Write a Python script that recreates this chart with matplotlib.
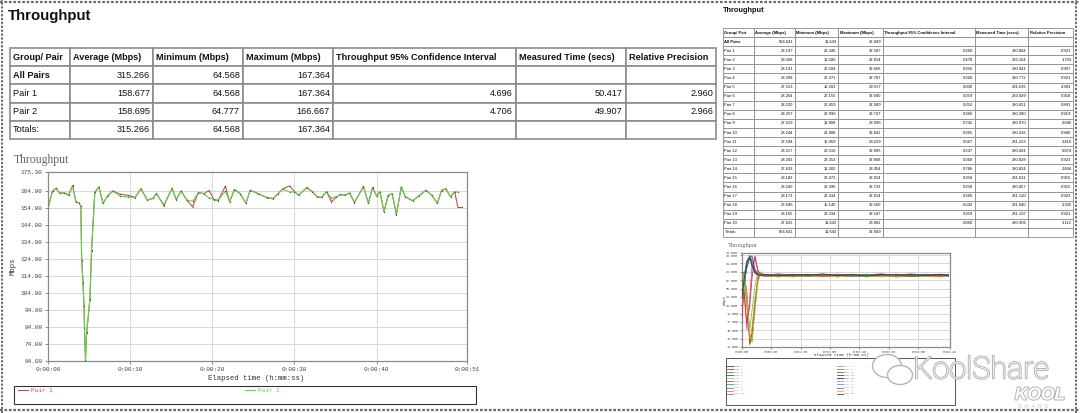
import matplotlib
matplotlib.use("Agg")
import matplotlib.pyplot as plt
import matplotlib.patheffects as pe
from matplotlib.patches import Ellipse, Rectangle

plt.rcParams['font.family'] = ['Liberation Sans', 'DejaVu Sans']

W, H = 1080, 413   # canvas in pixels

# ---------------- data: left report (2 pairs) ----------------
table_header = ["Group/ Pair", "Average (Mbps)", "Minimum (Mbps)", "Maximum (Mbps)",
                "Throughput 95% Confidence Interval", "Measured Time (secs)", "Relative Precision"]
left_rows = [
    ["All Pairs", "315.266", "64.568", "167.364", "", "", ""],
    ["Pair 1", "158.677", "64.568", "167.364", "4.696", "50.417", "2.960"],
    ["Pair 2", "158.695", "64.777", "166.667", "4.706", "49.907", "2.966"],
    ["Totals:", "315.266", "64.568", "167.364", "", "", ""],
]

# elapsed seconds / Mbps
t_pair1 = [0.0, 0.55, 1.0, 1.4, 2.0, 2.5, 3.0, 3.4, 3.8, 4.0, 4.1, 4.26, 4.38, 4.44, 4.56,
           4.7, 5.1, 5.3, 5.7, 6.2, 6.7, 7.3, 7.9, 8.8, 9.7, 10.6, 11.3, 12.1, 12.8, 13.2,
           14.1, 15.1, 15.6, 16.2, 16.9, 17.6, 18.3, 19.0, 19.6, 20.2, 20.7, 21.6, 22.1,
           22.7, 23.4, 24.1, 24.6, 25.6, 26.6, 27.4, 28.0, 28.6, 29.4, 30.0, 30.5, 31.5,
           32.1, 32.8, 33.3, 33.9, 34.5, 35.1, 35.6, 36.1, 36.7, 37.3, 38.4, 39.0, 39.5,
           40.0, 40.4, 40.9, 41.4, 41.9, 42.4, 43.0, 43.5, 44.4, 45.2, 46.0, 46.7, 47.4,
           47.9, 48.4, 49.0, 49.5, 49.9, 50.4]
mbps_pair1 = [154.0, 164.2, 165.8, 162.8, 163.0, 161.7, 167.364, 157.7, 157.0, 155.0, 123.4,
              110.5, 97.0, 84.0, 64.568, 80.5, 100.0, 129.0, 163.4, 166.4, 156.8, 161.6, 164.2,
              162.2, 161.6, 160.4, 165.5, 158.7, 159.9, 162.8, 155.4, 165.8, 159.0, 164.2,
              158.7, 154.8, 163.2, 162.6, 164.4, 159.0, 158.5, 167.0, 157.7, 165.0, 162.6,
              156.8, 164.6, 162.6, 160.2, 159.6, 162.6, 165.5, 167.1, 163.8, 161.6, 166.2,
              164.0, 160.6, 160.3, 163.8, 157.7, 160.6, 162.2, 161.6, 163.0, 157.3, 166.8,
              156.8, 166.2, 161.1, 163.8, 151.8, 161.6, 162.6, 150.1, 166.5, 160.6, 158.3,
              161.6, 164.6, 161.6, 156.8, 164.6, 165.5, 160.6, 163.6, 154.4, 154.4]
t_pair2 = [0.0, 0.55, 1.0, 1.4, 2.0, 2.5, 3.0, 3.4, 3.8, 4.0, 4.1, 4.26, 4.38, 4.44, 4.56,
           4.7, 5.1, 5.3, 5.7, 6.2, 6.7, 7.3, 7.9, 8.8, 9.7, 10.6, 11.3, 12.1, 12.8, 13.2,
           14.1, 15.1, 15.6, 16.2, 16.9, 17.6, 18.3, 19.0, 19.6, 20.2, 20.7, 21.6, 22.1,
           22.7, 23.4, 24.1, 24.6, 25.6, 26.6, 27.4, 28.0, 28.6, 29.4, 30.0, 30.5, 31.5,
           32.1, 32.8, 33.3, 33.9, 34.5, 35.1, 35.6, 36.1, 36.7, 37.3, 38.4, 39.0, 39.5,
           40.0, 40.4, 40.9, 41.4, 41.9, 42.4, 43.0, 43.5, 44.4, 45.2, 46.0, 46.7, 47.4,
           47.9, 48.4, 49.0, 49.5, 49.9]
mbps_pair2 = [154.0, 164.0, 165.6, 162.9, 163.1, 161.5, 166.9, 157.9, 157.1, 155.2, 123.0,
              110.0, 96.5, 83.5, 64.777, 80.8, 100.4, 129.4, 163.6, 166.667, 156.9, 161.4,
              164.0, 161.0, 160.6, 160.2, 165.3, 158.9, 159.7, 162.6, 156.0, 165.6, 159.2,
              164.0, 158.9, 158.0, 163.0, 162.4, 160.0, 159.2, 158.7, 164.0, 157.9, 164.8,
              162.4, 157.0, 164.4, 162.4, 160.4, 159.8, 162.4, 165.3, 163.5, 163.6, 161.8,
              166.0, 163.8, 160.8, 160.5, 163.6, 160.0, 160.8, 162.0, 161.8, 162.8, 157.5,
              166.5, 157.0, 166.0, 161.3, 163.6, 152.0, 161.4, 162.4, 150.4, 166.3, 160.8,
              158.5, 161.4, 164.4, 161.8, 157.0, 164.4, 165.3, 160.8, 163.8, 163.4]

left_yticks = [64, 74, 84, 94, 104, 114, 124, 134, 144, 154, 164, 175.3]
left_xticks = [0, 10, 20, 30, 40, 51]

# ---------------- data: right report (20 pairs) ----------------
right_rows = [
    ["All Pairs", "556.641", "11.643", "32.949", "", "", ""],
    ["Pair 1", "28.197", "22.346", "32.587", "0.260", "280.884", "0.921"],
    ["Pair 2", "28.068", "16.580", "32.814", "0.478", "282.164", "1.703"],
    ["Pair 3", "28.191", "22.504", "32.666", "0.256", "280.941", "0.907"],
    ["Pair 4", "28.208", "22.371", "32.787", "0.260", "280.772", "0.921"],
    ["Pair 5", "27.553", "12.203", "29.017", "0.800", "281.636", "2.903"],
    ["Pair 6", "28.264", "22.155", "32.600", "0.259", "283.049", "0.918"],
    ["Pair 7", "28.220", "22.459", "32.949", "0.252", "280.651", "0.891"],
    ["Pair 8", "28.257", "22.996", "32.747", "0.260", "280.280", "0.919"],
    ["Pair 9", "27.619", "12.808", "28.996", "0.742", "280.970", "2.686"],
    ["Pair 10", "28.244", "21.888", "32.841", "0.265", "280.416", "0.940"],
    ["Pair 11", "27.594", "15.069", "29.229", "0.667", "281.223", "2.416"],
    ["Pair 12", "28.217", "22.510", "32.895", "0.247", "280.681", "0.874"],
    ["Pair 13", "28.202", "22.353", "32.868", "0.260", "280.828", "0.923"],
    ["Pair 14", "27.633", "12.302", "28.954", "0.786", "280.824", "2.844"],
    ["Pair 15", "28.182", "22.472", "32.814", "0.258", "281.031", "0.915"],
    ["Pair 16", "28.240", "22.396", "32.733", "0.258", "280.457", "0.915"],
    ["Pair 17", "28.173", "22.334", "32.814", "0.260", "281.120", "0.923"],
    ["Pair 18", "27.696", "15.140", "32.560", "0.643", "281.040", "2.305"],
    ["Pair 19", "28.165", "22.334", "32.547", "0.259", "281.197", "0.921"],
    ["Pair 20", "27.625", "11.643", "28.881", "0.860", "280.906", "3.112"],
    ["Totals:", "556.641", "11.643", "32.949", "", "", ""],
]

t_right = [0, 3, 7, 11, 14, 18, 22, 26, 30, 50, 70, 90, 110, 130, 150, 170, 190, 210, 230, 250, 270, 281]
r_pair1 = [22.4, 27.0, 31.2, 32.5, 30.6, 28.9, 28.3, 28.1, 28.4, 28.0, 28.3, 28.2, 28.5, 28.1, 28.3, 28.0, 28.4, 28.2, 28.3, 28.1, 28.4, 28.2]
r_pair2 = [17.0, 24.5, 16.6, 21.0, 27.5, 32.8, 29.4, 28.2, 28.0, 28.3, 28.1, 28.4, 28.0, 28.2, 28.3, 28.1, 28.2, 28.4, 27.9, 28.2, 28.1, 28.3]
r_pair3 = [22.5, 26.2, 30.5, 32.6, 31.2, 29.0, 28.4, 28.2, 28.1, 28.4, 28.2, 28.0, 28.3, 28.3, 28.1, 28.4, 28.2, 28.1, 28.3, 28.2, 28.0, 28.3]
r_pair4 = [22.4, 25.8, 29.9, 32.4, 32.8, 29.6, 28.5, 28.1, 28.3, 28.2, 28.4, 28.1, 28.2, 28.4, 28.0, 28.3, 28.1, 28.3, 28.2, 28.4, 28.2, 28.1]
r_pair5 = [21.0, 28.6, 23.4, 14.0, 12.2, 19.5, 26.2, 29.0, 28.2, 27.9, 28.1, 28.0, 28.2, 27.8, 28.1, 28.0, 27.9, 28.2, 28.0, 27.9, 28.1, 28.0]
r_pair6 = [22.2, 27.4, 31.6, 32.6, 30.2, 28.7, 28.2, 28.4, 28.2, 28.5, 28.2, 28.3, 28.1, 28.4, 28.2, 28.3, 28.5, 28.1, 28.3, 28.2, 28.4, 28.3]
r_pair7 = [22.5, 26.8, 31.0, 32.9, 31.4, 29.1, 28.4, 28.2, 28.0, 28.3, 28.2, 28.4, 28.1, 28.3, 28.2, 28.0, 28.3, 28.4, 28.1, 28.2, 28.3, 28.2]
r_pair8 = [23.0, 27.1, 30.7, 32.7, 30.9, 28.8, 28.3, 28.4, 28.3, 28.1, 28.4, 28.2, 28.3, 28.2, 28.4, 28.1, 28.3, 28.2, 28.5, 28.2, 28.3, 28.1]
r_pair9 = [20.2, 27.9, 22.6, 12.8, 15.5, 22.4, 27.8, 28.9, 28.1, 28.0, 27.8, 28.1, 27.9, 28.0, 28.2, 27.9, 28.0, 27.8, 28.1, 28.0, 27.9, 28.1]
r_pair10 = [21.9, 26.0, 30.2, 32.8, 31.6, 29.3, 28.5, 28.1, 28.2, 28.4, 28.1, 28.3, 28.2, 28.1, 28.4, 28.3, 28.0, 28.2, 28.4, 28.1, 28.3, 28.2]
r_pair11 = [19.8, 26.4, 20.5, 15.1, 19.8, 25.6, 29.2, 28.4, 28.0, 27.9, 28.1, 28.0, 27.8, 28.2, 27.9, 28.0, 28.1, 27.9, 28.0, 28.2, 27.9, 28.0]
r_pair12 = [22.5, 27.2, 31.5, 32.9, 30.4, 28.6, 28.2, 28.3, 28.1, 28.3, 28.2, 28.4, 28.2, 28.1, 28.3, 28.2, 28.4, 28.1, 28.2, 28.3, 28.1, 28.2]
r_pair13 = [22.4, 26.6, 30.9, 32.8, 31.1, 29.0, 28.3, 28.1, 28.3, 28.1, 28.3, 28.2, 28.4, 28.2, 28.0, 28.3, 28.2, 28.4, 28.1, 28.3, 28.2, 28.3]
r_pair14 = [21.3, 28.9, 24.2, 13.4, 12.3, 20.6, 27.0, 28.8, 28.1, 28.0, 27.9, 28.2, 28.0, 27.9, 28.1, 27.8, 28.0, 28.1, 27.9, 28.0, 28.2, 27.9]
r_pair15 = [22.5, 26.9, 31.3, 32.8, 30.8, 28.9, 28.3, 28.2, 28.2, 28.3, 28.1, 28.2, 28.3, 28.4, 28.1, 28.2, 28.3, 28.0, 28.2, 28.4, 28.1, 28.2]
r_pair16 = [22.4, 25.9, 30.4, 32.7, 31.5, 29.2, 28.4, 28.3, 28.4, 28.2, 28.3, 28.1, 28.4, 28.2, 28.3, 28.4, 28.1, 28.3, 28.2, 28.1, 28.4, 28.3]
r_pair17 = [22.3, 27.3, 31.4, 32.8, 30.5, 28.8, 28.2, 28.1, 28.2, 28.4, 28.2, 28.0, 28.3, 28.1, 28.2, 28.3, 28.2, 28.1, 28.3, 28.2, 28.2, 28.1]
r_pair18 = [18.6, 25.1, 15.1, 22.8, 30.4, 32.5, 28.9, 28.1, 28.0, 27.9, 28.2, 28.0, 28.1, 27.9, 28.0, 28.2, 27.8, 28.0, 28.1, 27.9, 28.0, 28.1]
r_pair19 = [22.3, 26.4, 30.6, 32.5, 31.3, 29.1, 28.4, 28.2, 28.1, 28.3, 28.2, 28.3, 28.0, 28.3, 28.2, 28.1, 28.3, 28.2, 28.0, 28.3, 28.2, 28.1]
r_pair20 = [22.0, 28.8, 21.8, 11.6, 14.2, 21.5, 27.4, 28.9, 28.0, 27.8, 28.0, 27.9, 28.1, 27.8, 28.0, 27.9, 28.1, 27.8, 28.0, 27.9, 27.8, 28.0]

right_yticks = [11, 13, 15, 17, 19, 21, 23, 25, 27, 29, 31, 33, 33.5]
right_xticks = [0, 40, 80, 120, 160, 200, 240, 283]

pair_colors = ['#404040', '#d03030', '#30b030', '#3050d0', '#c8c820', '#b040b0', '#20b0b0',
               '#808080', '#e08030', '#7070e0', '#70c070', '#c07070', '#707000', '#007070',
               '#700070', '#a0a0a0', '#40a0f0', '#f040a0', '#90d030', '#804000']


def frect(x0, y0, x1, y1):
    # pixel box (top-left origin) -> figure fraction [l, b, w, h]
    return [x0 / W, 1 - y1 / H, (x1 - x0) / W, (y1 - y0) / H]


def hms(s):
    s = int(round(s))
    return f"{s // 3600}:{s % 3600 // 60:02d}:{s % 60:02d}"


def draw_table(ax, rows, col_edges, y0, y1, fs, pad_px, lw):
    widths = [col_edges[i + 1] - col_edges[i] for i in range(len(col_edges) - 1)]
    tb = ax.table(cellText=[table_header] + rows, colWidths=widths, cellLoc='right',
                  bbox=frect(col_edges[0], y0, col_edges[-1], y1))
    tb.auto_set_font_size(False)
    tb.set_fontsize(fs)
    for (r, c), cell in tb.get_celld().items():
        cell.set_edgecolor('#8c8c8c')
        cell.set_linewidth(lw)
        cell.PAD = pad_px / widths[c]
        txt = cell.get_text()
        txt.set_color('#111111')
        if r == 0 or c == 0:
            txt.set_ha('left')
        if r == 0 or (r == 1 and c == 0):
            txt.set_fontweight('bold')
    return tb


def style_chart(ax, yticks, xticks, fs, ylim, xlim, fmt):
    ax.set_xlim(*xlim)
    ax.set_ylim(*ylim)
    ax.set_yticks(yticks)
    ax.set_yticklabels([fmt.format(v) for v in yticks])
    ax.set_xticks(xticks)
    ax.set_xticklabels([hms(v) for v in xticks])
    ax.grid(True, color='#d8d8d8', linewidth=0.7)
    ax.set_axisbelow(True)
    for sp in ax.spines.values():
        sp.set_color('#8a8a8a')
        sp.set_linewidth(0.9)
    ax.tick_params(direction='out', length=2.5, width=0.6, color='#777777',
                   labelsize=fs, labelcolor='#444444', pad=1.5)
    for lab in ax.get_xticklabels() + ax.get_yticklabels():
        lab.set_family('Liberation Mono')


fig = plt.figure(figsize=(W / 100, H / 100), dpi=100)

# ---------------- left chart ----------------
axl = fig.add_axes(frect(48, 172, 467, 361))
axl.plot(t_pair1, mbps_pair1, color='#c8504a', linewidth=0.8, marker='o', markersize=0.9,
         markerfacecolor='#555555', markeredgecolor='none', label='Pair 1')
axl.plot(t_pair2, mbps_pair2, color='#5ad64a', linewidth=0.8, marker='o', markersize=0.9,
         markerfacecolor='#555555', markeredgecolor='none', label='Pair 2')
style_chart(axl, left_yticks, left_xticks, 4.4, (64, 175.3), (0, 51), "{:.2f}")
axl.set_xlabel("Elapsed time (h:mm:ss)", family='Liberation Mono', fontsize=5.2, color='#333333')
axl.xaxis.set_label_coords(0.497, -0.072)
axl.set_ylabel("Mbps", family='Liberation Mono', fontsize=5.2, color='#333333')
axl.yaxis.set_label_coords(-0.075, 0.5)
fig.legend(handles=axl.get_lines(), loc='upper left', ncol=2,
           bbox_to_anchor=(16 / W, 1 - 386 / H), prop={'family': 'Liberation Mono', 'size': 4.4},
           labelcolor='linecolor', frameon=False, borderpad=0.3, handlelength=1.6,
           handletextpad=0.5, borderaxespad=0, columnspacing=31.5, markerscale=0)

# ---------------- right chart ----------------
axr = fig.add_axes(frect(741.7, 253, 950, 347))
right_series = [r_pair1, r_pair2, r_pair3, r_pair4, r_pair5, r_pair6, r_pair7, r_pair8,
                r_pair9, r_pair10, r_pair11, r_pair12, r_pair13, r_pair14, r_pair15,
                r_pair16, r_pair17, r_pair18, r_pair19, r_pair20]
right_lines = []
for i, vals in enumerate(right_series):
    ln, = axr.plot(t_right, vals, color=pair_colors[i], linewidth=0.6, label=f"Pair {i + 1}",
                   zorder=3 + (20 - i) * 0.01)
    right_lines.append(ln)
style_chart(axr, right_yticks, right_xticks, 2.3, (11, 33.5), (0, 283), "{:.3f}")
axr.tick_params(length=1.5, pad=1)
axr.set_xlabel("Elapsed time (h:mm:ss)", family='Liberation Mono', fontsize=3.0, color='#333333')
axr.xaxis.set_label_coords(0.48, -0.06)
axr.set_ylabel("Mbps", family='Liberation Mono', fontsize=3.0, color='#333333')
axr.yaxis.set_label_coords(-0.07, 0.5)
fig.legend(handles=right_lines, loc='upper left', ncol=2,
           bbox_to_anchor=(727 / W, 1 - 365 / H), prop={'family': 'Liberation Mono', 'size': 1.6},
           labelcolor='linecolor', frameon=False, borderpad=0.1, handlelength=2.6,
           handleheight=0.5, handletextpad=0.6, borderaxespad=0, labelspacing=0.75,
           columnspacing=42)

# ---------------- overlay: titles, tables, frame, watermark ----------------
ax = fig.add_axes([0, 0, 1, 1], zorder=10)
ax.set_xlim(0, W)
ax.set_ylim(H, 0)
ax.axis('off')

ax.text(8, 16, "Throughput", fontsize=10.8, fontweight='bold', va='center', color='#111111')
draw_table(ax, left_rows, [10, 70, 153, 243, 333, 516, 626, 716], 48, 139, 6.6, 3, 1.2)
ax.text(14, 160, "Throughput", family='Liberation Serif', fontsize=8.5, va='center', color='#666666')

ax.text(723, 10, "Throughput", fontsize=5.3, fontweight='bold', va='center', color='#111111')
draw_table(ax, right_rows, [723, 754, 795, 838, 883, 975, 1028, 1073], 28, 237, 3.0, 1.5, 0.6)
ax.text(728, 246, "Throughput", family='Liberation Serif', fontsize=4.5, va='center', color='#666666')

# legend frames
ax.add_patch(Rectangle((14, 386), 462, 18, fill=False, edgecolor='#333333', linewidth=0.8))
ax.add_patch(Rectangle((726, 358), 229, 47, fill=False, edgecolor='#555555', linewidth=0.7))

# torn-page borders
for y in (2, 410):
    ax.axhline(y, color='#6a6a6a', linewidth=1.6, linestyle=(0, (1.2, 0.8)))
ax.axvline(2, color='#6a6a6a', linewidth=1.4, linestyle=(0, (1.2, 0.8)))
ax.axvline(1076, color='#6a6a6a', linewidth=1.4, linestyle=(0, (1.2, 0.8)))

# watermark
halo = [pe.withStroke(linewidth=1.4, foreground='#b4b4b4')]
for cx, cy, w, h in ((887, 366, 29, 23), (900, 375, 25, 19)):
    ax.add_patch(Ellipse((cx, cy), w, h, facecolor='white', edgecolor='#b4b4b4', linewidth=1.0, zorder=5))
ax.text(913, 370, "KoolShare", fontsize=22, family='Roboto', fontweight='light', color='white',
        va='center', ha='left', path_effects=halo, zorder=6)
ax.text(1040, 395, "KOOL", fontsize=12.5, fontweight='bold', style='italic', color='white',
        va='center', ha='center', path_effects=halo, zorder=6)
ax.text(1033, 406, "S  H  A  R  E", fontsize=4.0, color='#c4c4c4', va='center', ha='center', zorder=6)

fig.savefig("out.png", dpi=100)
